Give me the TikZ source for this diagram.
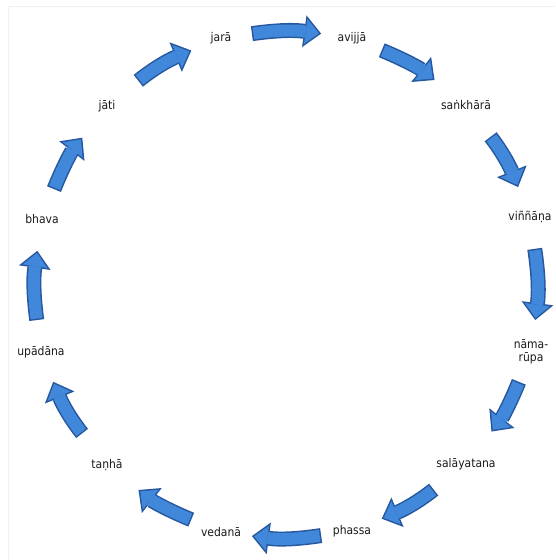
\documentclass[tikz,border=0pt]{standalone}
\usepackage{fontspec}
\setmainfont{DejaVu Sans Condensed}
\usetikzlibrary{arrows.meta}
\definecolor{cycfill}{RGB}{65,135,218}
\definecolor{cycline}{RGB}{38,88,160}
\tikzset{
  term/.style={circle, inner sep=0pt, minimum size=58pt,
    font=\fontsize{12}{13.5}\selectfont, text=black!90, align=center},
  cyc/.style 2 args={
    preaction={draw=cycline, line width=15pt, shorten <=#1pt, shorten >=#2pt,
      -{Triangle[length=17pt, width=32pt, line width=0pt]}},
    draw=cycfill, line width=12pt, shorten <={#1pt+1.5pt}, shorten >={#2pt+2.2pt},
    -{Triangle[length=13.3pt, width=25pt, line width=0pt]}
  }
}
\begin{document}
\begin{tikzpicture}[x=1pt, y=1pt]
  \useasboundingbox (0, 0) rectangle (555, 560);
  \draw[black!6] (8, 0) -- (8, 554) -- (555, 554);

  \node[term] (jara) at (221, 522) {jarā};
  \node[term] (avijja) at (352, 522) {avijjā};
  \node[term] (sankhara) at (466, 455) {saṅkhārā};
  \node[term] (vinnana) at (530, 343) {viññāṇa};
  \node[term] (namarupa) at (531, 208) {nāma-\\rūpa};
  \node[term] (salayatana) at (466, 96) {salāyatana};
  \node[term] (phassa) at (352, 29) {phassa};
  \node[term] (vedana) at (221, 28) {vedanā};
  \node[term] (tanha) at (107, 95) {taṇhā};
  \node[term] (upadana) at (41, 208) {upādāna};
  \node[term] (bhava) at (42, 341) {bhava};
  \node[term] (jati) at (107, 454) {jāti};

  \draw[cyc={2}{2}] (jara) to[bend left=8] (avijja);
  \draw[cyc={3}{11}] (avijja) to[bend left=8] (sankhara);
  \draw[cyc={11}{3}] (sankhara) to[bend left=8] (vinnana);
  \draw[cyc={3}{3}] (vinnana) to[bend left=8] (namarupa);
  \draw[cyc={3}{11}] (namarupa) to[bend left=8] (salayatana);
  \draw[cyc={11}{3}] (salayatana) to[bend left=8] (phassa);
  \draw[cyc={2}{2}] (phassa) to[bend left=8] (vedana);
  \draw[cyc={3}{11}] (vedana) to[bend left=8] (tanha);
  \draw[cyc={11}{3}] (tanha) to[bend left=8] (upadana);
  \draw[cyc={3}{3}] (upadana) to[bend left=8] (bhava);
  \draw[cyc={3}{11}] (bhava) to[bend left=8] (jati);
  \draw[cyc={11}{3}] (jati) to[bend left=8] (jara);
\end{tikzpicture}
\end{document}
